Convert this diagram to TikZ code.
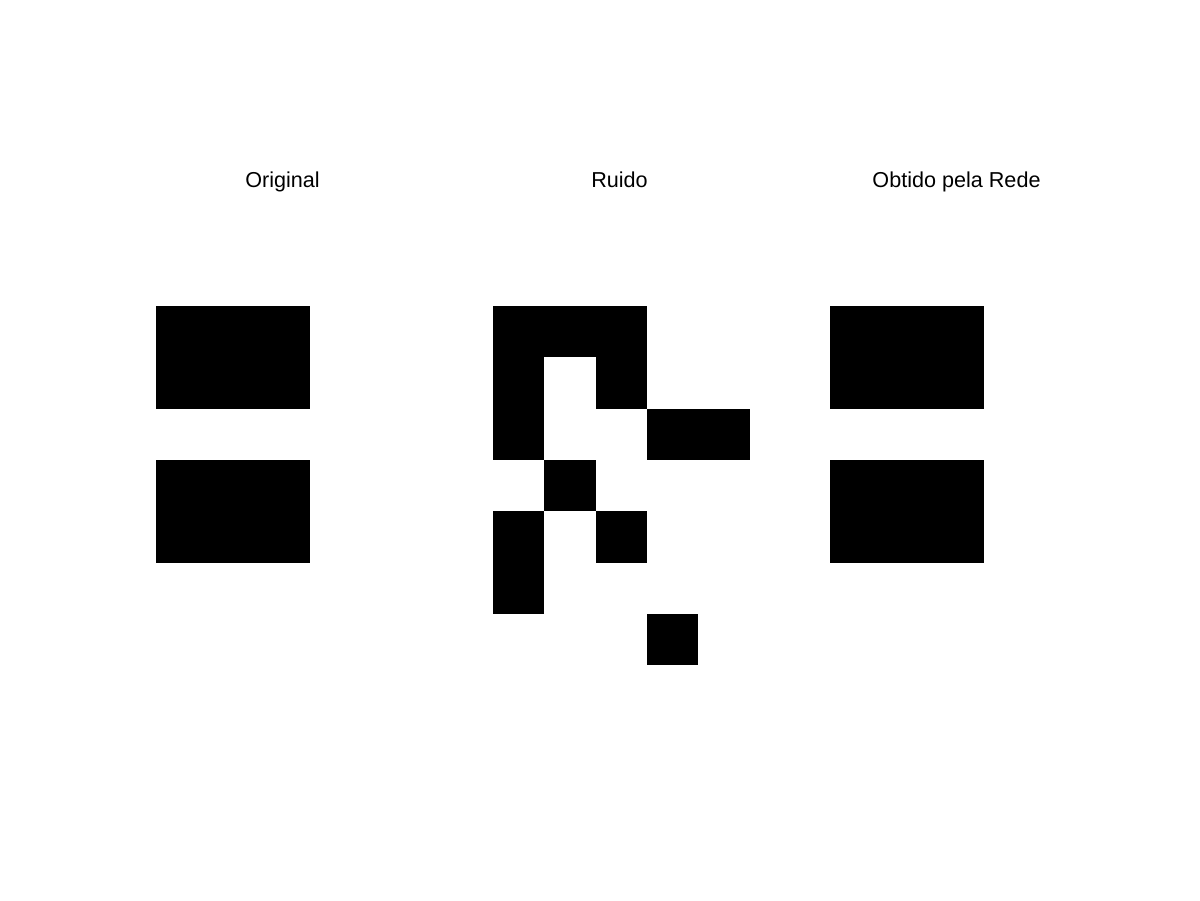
\documentclass[tikz,border=0pt]{standalone}
\usepackage{fontspec}
\setmainfont{Liberation Sans}
\begin{document}
\begin{tikzpicture}[x=0.75pt,y=-0.75pt,
  title/.style={anchor=base,inner sep=0pt,font=\fontsize{16.2}{19}\selectfont}]
\useasboundingbox[fill=white] (0,0) rectangle (1200,900);
\def\cs{51.33}
% cell macro: panel x origin, col, row
\newcommand\blk[3]{\fill (#1+#2*\cs,306+#3*\cs) rectangle (#1+#2*\cs+\cs,306+#3*\cs+\cs);}
\node[title] (t1) at (282.5,187.5) {Original};
\node[title] (t2) at (619.5,187.5) {Ruido};
\node[title] (t3) at (956.5,187.5) {Obtido pela Rede};
% Original
\fill (156,306) rectangle (156+3*\cs,306+2*\cs);
\fill (156,306+3*\cs) rectangle (156+3*\cs,306+5*\cs);
% Ruido
\blk{493}{0}{0}\blk{493}{1}{0}\blk{493}{2}{0}
\blk{493}{0}{1}\blk{493}{2}{1}
\blk{493}{0}{2}\blk{493}{3}{2}\blk{493}{4}{2}
\blk{493}{1}{3}
\blk{493}{0}{4}\blk{493}{2}{4}
\blk{493}{0}{5}
\blk{493}{3}{6}
% Obtido pela Rede
\fill (830,306) rectangle (830+3*\cs,306+2*\cs);
\fill (830,306+3*\cs) rectangle (830+3*\cs,306+5*\cs);
\end{tikzpicture}
\end{document}
